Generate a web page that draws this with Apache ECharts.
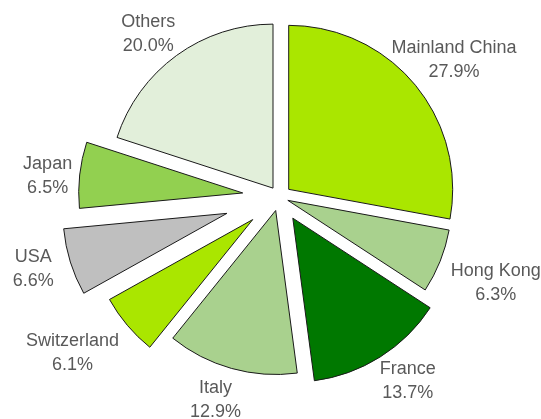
<!DOCTYPE html>
<html>
<head>
<meta charset="utf-8">
<script src="https://cdn.jsdelivr.net/npm/echarts@6/dist/echarts.min.js"></script>
<style>
  html, body { margin: 0; padding: 0; background: #ffffff; }
  #chart { width: 541px; height: 419px; }
</style>
</head>
<body>
<div id="chart"></div>
<script>
// ---- data ----
const categories = ['Mainland China', 'Hong Kong', 'France', 'Italy', 'Switzerland', 'USA', 'Japan', 'Others'];
const shares = [27.9, 6.3, 13.7, 12.9, 6.1, 6.6, 6.5, 20.0];

// ---- styles ----
const colors = ['#AAE600', '#A9D18E', '#007800', '#A9D18E', '#AAE600', '#BFBFBF', '#92D050', '#E2EFDA'];
const explode = [12, 9, 25, 14, 35, 55, 37, 11];
const labelGap = [38, 60, 29, 33, 43, 22, -10, 26];
const labelShift = [10, 0, 12, 7, 22, 16, 42, 13];

const chart = echarts.init(document.getElementById('chart'), null, { renderer: 'canvas' });

const series = categories.map(function (name, i) {
  const data = categories.map(function (n, j) {
    const visible = (i === j);
    const style = visible
      ? { color: colors[j], borderColor: '#1a1a1a', borderWidth: 1 }
      : { color: 'rgba(0,0,0,0)', borderWidth: 0 };
    return {
      name: n,
      value: shares[j],
      selected: visible,
      itemStyle: style,
      select: { itemStyle: style },
      label: { show: visible },
      labelLine: { show: false, length: labelGap[j], length2: labelShift[j] }
    };
  });
  return {
    type: 'pie',
    center: ['51.66%', '47.02%'],
    radius: 164,
    startAngle: 90,
    clockwise: true,
    selectedMode: 'multiple',
    selectedOffset: explode[i],
    avoidLabelOverlap: false,
    silent: true,
    animation: false,
    emphasis: { disabled: true },
    label: {
      show: true,
      position: 'outside',
      distanceToLabelLine: 0,
      color: '#595959',
      fontFamily: '"Liberation Sans", Arial, sans-serif',
      fontSize: 18,
      lineHeight: 24,
      formatter: function (p) { return p.name + '\n' + p.value.toFixed(1) + '%'; }
    },
    labelLayout: { align: 'center', verticalAlign: 'middle' },
    labelLine: { show: false },
    data: data
  };
});

chart.setOption({
  animation: false,
  backgroundColor: '#ffffff',
  series: series
});
</script>
</body>
</html>
